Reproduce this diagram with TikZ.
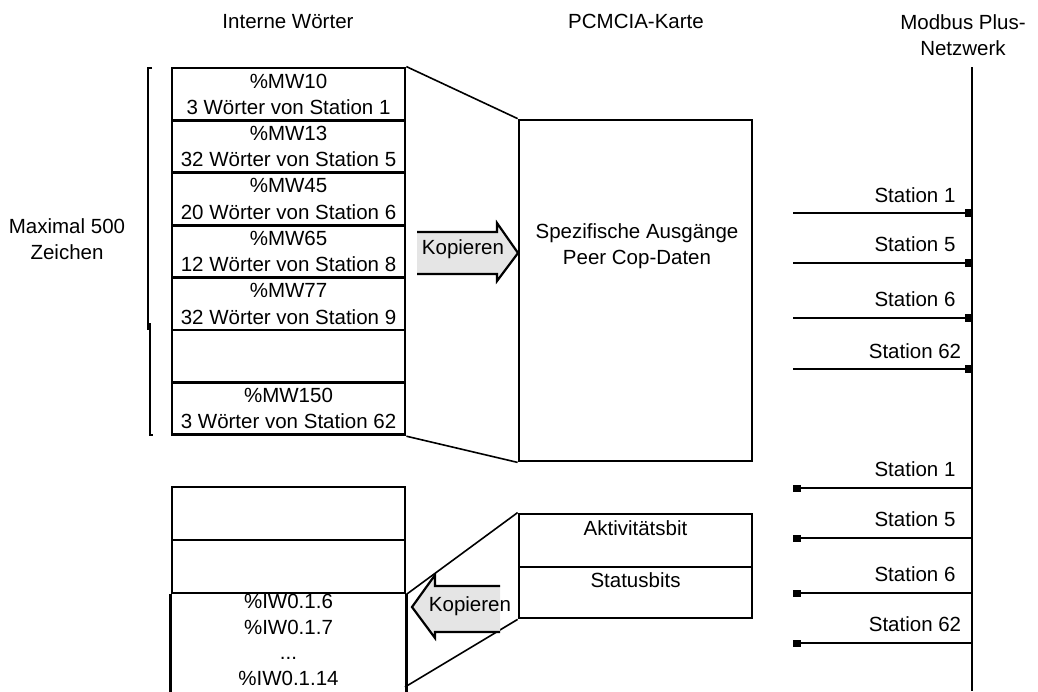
\documentclass[tikz,border=0pt]{standalone}
\usepackage{fontspec}
\setmainfont{Liberation Sans}
\usetikzlibrary{arrows.meta}
\newcommand{\diagfont}{\fontsize{20.5}{26.5}\selectfont}

\begin{document}
\begin{tikzpicture}[
    x=1pt, y=-1pt,
    font=\diagfont,
    cell/.style={draw, line width=2.8pt, minimum width=233pt, minimum height=52.4pt, inner sep=0pt, align=center},
    txt/.style={inner sep=0pt, align=center},
    link/.style={line width=1.6pt},
    frame/.style={line width=2.8pt},
    outline/.style={line width=2.2pt, line join=miter},
    copyfill/.style={fill=black!10},
    tx/.style={line width=2.8pt, -{Square[length=7pt,width=8pt]}},
    rx/.style={line width=2.2pt, -{Square[length=8pt,width=7pt]}}
]
\useasboundingbox (0,0) rectangle (1038,691);

\node[txt, anchor=base] (hwords) at (288,28) {Interne Wörter};
\node[txt, anchor=base] (hcard) at (636,28) {PCMCIA-Karte};
\node[txt] (hbus) at (963,35) {Modbus Plus-\\Netzwerk};

\node[txt] (maxlen) at (67,239) {Maximal 500\\Zeichen};
\draw[frame] (152,68) -- (148,68) -- (148,330);
\draw[frame] (150,323) -- (150,435) -- (153,435);

\node[cell] (w10) at (288.5,94.2) {\%MW10\\3 Wörter von Station 1};
\node[cell] (w13) at (288.5,146.6) {\%MW13\\32 Wörter von Station 5};
\node[cell] (w45) at (288.5,199) {\%MW45\\20 Wörter von Station 6};
\node[cell] (w65) at (288.5,251.4) {\%MW65\\12 Wörter von Station 8};
\node[cell] (w77) at (288.5,303.8) {\%MW77\\32 Wörter von Station 9};
\node[cell] (wgap) at (288.5,356.2) {};
\node[cell] (w150) at (288.5,408.6) {\%MW150\\3 Wörter von Station 62};

\node[cell, minimum height=341pt] (card) at (635.5,290.5) {};
\node[txt] (cardtext) at (637,246) {Spezifische Ausgänge\\Peer Cop-Daten};

\draw[link] (w10.north east) -- (card.north west);
\draw[link] (w150.south east) -- (card.south west);

\fill[copyfill] (417,232) -- (497,232) -- (497,223) -- (518,253) -- (497,281) -- (497,274) -- (417,274) -- cycle;
\draw[outline] (417,232) -- (497,232) -- (497,223) -- (518,253) -- (497,281) -- (497,274) -- (417,274);
\node[txt] (copyout) at (463,249) {Kopieren};

\node[cell, minimum height=53pt] (i1) at (288.5,513.5) {};
\node[cell, minimum height=53pt] (i2) at (288.5,566.5) {};
\node[txt, font=\fontsize{20.5}{25.5}\selectfont] (iwtext) at (288.5,640) {\%IW0.1.6\\\%IW0.1.7\\...\\\%IW0.1.14};
\draw[frame] (i2.south west) -- (i2.south west |- 0,700);
\draw[frame] (i2.south east) -- (i2.south east |- 0,700);

\node[cell, minimum height=53pt] (aktiv) at (635.5,540.5) {};
\node[cell, minimum height=51pt] (status) at (635.5,592.5) {};
\node[txt, anchor=base] (aktivtext) at (635.5,535) {Aktivitätsbit};
\node[txt, anchor=base] (statustext) at (635.5,587) {Statusbits};

\coordinate (iwlow) at (405,687);
\draw[link] (i2.south east) -- (aktiv.north west);
\draw[link] (iwlow) -- (status.south west);

\fill[copyfill] (500,586) -- (435,586) -- (435,575) -- (412,607) -- (435,638) -- (435,632) -- (500,632) -- cycle;
\draw[outline] (500,586) -- (435,586) -- (435,575) -- (412,607) -- (435,638) -- (435,632) -- (500,632);
\node[txt] (copyin) at (470,606) {Kopieren};

\coordinate (bustop) at (972,67);
\coordinate (busbot) at (972,691);
\draw[frame] (bustop) -- (busbot);

\coordinate (so1) at (793,213);
\coordinate (so5) at (793,263);
\coordinate (so6) at (793,318);
\coordinate (so62) at (793,369);
\draw[tx] (so1) -- (so1 -| bustop);
\draw[tx] (so5) -- (so5 -| bustop);
\draw[tx] (so6) -- (so6 -| bustop);
\draw[tx] (so62) -- (so62 -| bustop);
\node[txt, anchor=base] (lso1) at (915,202) {Station 1};
\node[txt, anchor=base] (lso5) at (915,251) {Station 5};
\node[txt, anchor=base] (lso6) at (915,306) {Station 6};
\node[txt, anchor=base] (lso62) at (915,358) {Station 62};

\coordinate (si1) at (793,488);
\coordinate (si5) at (793,538);
\coordinate (si6) at (793,593);
\coordinate (si62) at (793,643);
\draw[rx] (si1 -| bustop) -- (si1);
\draw[rx] (si5 -| bustop) -- (si5);
\draw[rx] (si6 -| bustop) -- (si6);
\draw[rx] (si62 -| bustop) -- (si62);
\node[txt, anchor=base] (lsi1) at (915,476) {Station 1};
\node[txt, anchor=base] (lsi5) at (915,526) {Station 5};
\node[txt, anchor=base] (lsi6) at (915,581) {Station 6};
\node[txt, anchor=base] (lsi62) at (915,631) {Station 62};

\end{tikzpicture}
\end{document}
